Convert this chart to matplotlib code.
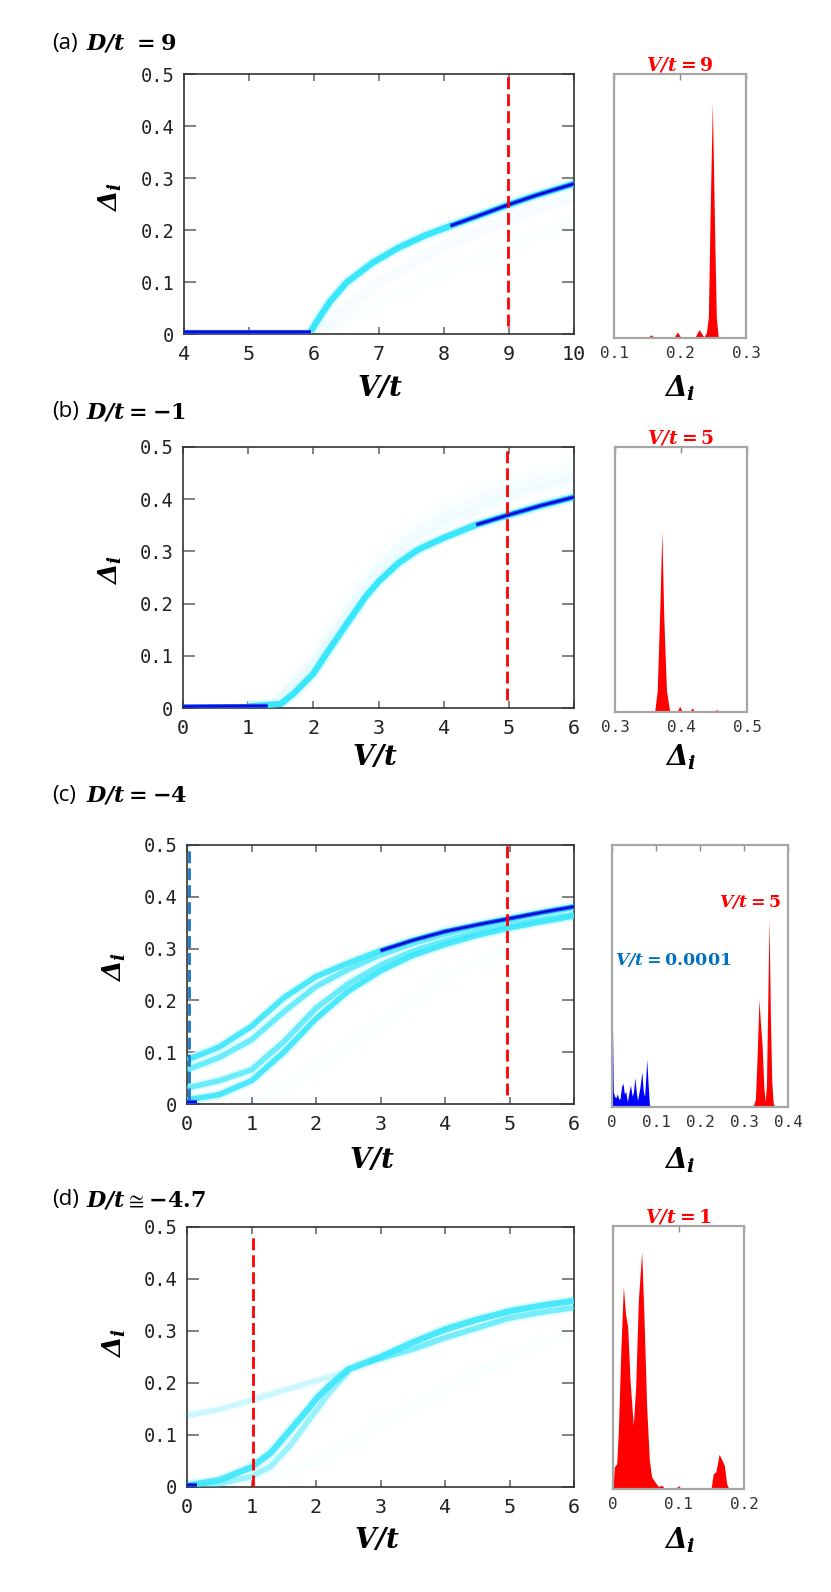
import matplotlib.pyplot as plt

# --------------------------------------------------------------------
# data
# --------------------------------------------------------------------

y_ticks = [0, 0.1, 0.2, 0.3, 0.4, 0.5]
y_tick_labels = ["0", "0.1", "0.2", "0.3", "0.4", "0.5"]

# (a) D/t = 9
a_xticks = [4, 5, 6, 7, 8, 9, 10]
a_flat_v = [4.0, 5.95]
a_flat_d = [0.003, 0.003]
a_v = [5.95, 6.0, 6.1, 6.25, 6.5, 6.9, 7.3, 7.7, 8.1, 8.5, 9.0, 9.4, 10.0]
a_d = [0.005, 0.015, 0.035, 0.063, 0.099, 0.137, 0.166, 0.189, 0.208, 0.226, 0.249, 0.266, 0.289]
a_faint_v = [6.0, 7.0, 8.0, 9.0, 10.0]
a_faint1_d = [0.0, 0.10, 0.17, 0.22, 0.265]
a_faint2_d = [0.0, 0.06, 0.12, 0.17, 0.215]
a_cut = 8.98
a_hist_x = [0.1, 0.150, 0.156, 0.162, 0.190, 0.196, 0.202, 0.222, 0.229, 0.236, 0.240,
            0.243, 0.2455, 0.249, 0.2525, 0.255, 0.258, 0.3]
a_hist_y = [0, 0, 0.012, 0, 0, 0.022, 0, 0, 0.032, 0.004, 0.02,
            0.08, 0.45, 0.89, 0.40, 0.08, 0, 0]
a_hist_ticks = [0.1, 0.2, 0.3]
a_hist_labels = ["0.1", "0.2", "0.3"]

# (b) D/t = -1
b_xticks = [0, 1, 2, 3, 4, 5, 6]
b_flat_v = [0.0, 1.3]
b_flat_d = [0.003, 0.004]
b_v = [1.0, 1.5, 1.7, 2.0, 2.2, 2.5, 2.8, 3.0, 3.3, 3.6, 4.0, 4.5, 5.0, 5.5, 6.0]
b_d = [0.003, 0.008, 0.028, 0.066, 0.104, 0.159, 0.213, 0.242, 0.277, 0.303, 0.326,
       0.351, 0.370, 0.388, 0.404]
b_faint_v = [1.4, 2.0, 2.5, 3.0, 3.5, 4.0, 5.0, 6.0]
b_faint1_d = [0.01, 0.10, 0.20, 0.285, 0.345, 0.385, 0.435, 0.466]
b_faint2_d = [0.005, 0.085, 0.18, 0.265, 0.325, 0.365, 0.418, 0.447]
b_faint3_d = [0.004, 0.078, 0.17, 0.255, 0.313, 0.352, 0.405, 0.437]
b_cut = 4.97
b_hist_x = [0.3, 0.360, 0.364, 0.368, 0.371, 0.374, 0.378, 0.383, 0.394, 0.398, 0.402,
            0.413, 0.417, 0.421, 0.450, 0.454, 0.458, 0.5]
b_hist_y = [0, 0, 0.08, 0.40, 0.68, 0.35, 0.08, 0, 0, 0.022, 0,
            0, 0.016, 0, 0, 0.01, 0, 0]
b_hist_ticks = [0.3, 0.4, 0.5]
b_hist_labels = ["0.3", "0.4", "0.5"]

# (c) D/t = -4
c_xticks = [0, 1, 2, 3, 4, 5, 6]
c_v = [0, 0.5, 1, 1.5, 2, 2.5, 3, 3.5, 4, 4.5, 5, 5.5, 6]
c_s1 = [0.085, 0.11, 0.15, 0.205, 0.246, 0.272, 0.296, 0.316, 0.333, 0.346, 0.358, 0.370, 0.381]
c_s2 = [0.066, 0.09, 0.124, 0.178, 0.227, 0.26, 0.288, 0.310, 0.328, 0.343, 0.356, 0.368, 0.379]
c_s3 = [0.031, 0.045, 0.066, 0.12, 0.185, 0.232, 0.268, 0.295, 0.315, 0.332, 0.345, 0.356, 0.366]
c_s4 = [0.008, 0.018, 0.045, 0.10, 0.165, 0.218, 0.257, 0.287, 0.308, 0.326, 0.340, 0.352, 0.363]
c_faint_v = [0.8, 1.5, 2.0, 3.0, 4.0, 5.0]
c_faint_d = [0.0, 0.03, 0.07, 0.155, 0.245, 0.305]
c_dot_v = [0.0, 0.15]
c_dot_d = [0.004, 0.004]
c_cut = 4.96
c_cut_low = 0.03
c_red_x = [0.320, 0.326, 0.330, 0.334, 0.337, 0.341, 0.345, 0.348, 0.351, 0.354, 0.357,
           0.360, 0.363, 0.366, 0.369]
c_red_y = [0, 0.03, 0.20, 0.41, 0.33, 0.24, 0.08, 0.02, 0.08, 0.40, 0.716,
           0.35, 0.10, 0.02, 0]
c_blue_x = [0.0, 0.0012, 0.003, 0.006, 0.009, 0.012, 0.0155, 0.018, 0.022, 0.025, 0.028,
            0.031, 0.035, 0.039, 0.042, 0.046, 0.049, 0.052, 0.055, 0.058, 0.063, 0.068,
            0.071, 0.074, 0.077, 0.079, 0.082, 0.085, 0.087]
c_blue_y = [0.643, 0.30, 0.06, 0.04, 0.035, 0.05, 0.03, 0.03, 0.08, 0.09, 0.05,
            0.06, 0.02, 0.06, 0.083, 0.04, 0.06, 0.112, 0.06, 0.025, 0.07, 0.134,
            0.06, 0.04, 0.12, 0.182, 0.09, 0.01, 0.0]
c_hist_ticks = [0, 0.1, 0.2, 0.3, 0.4]
c_hist_labels = ["0", "0.1", "0.2", "0.3", "0.4"]

# (d) D/t ~ -4.7
d_xticks = [0, 1, 2, 3, 4, 5, 6]
d_v = [0.0, 0.5, 1.0, 1.3, 1.5, 1.7, 1.9, 2.0, 2.2, 2.5, 3.0, 3.5, 4.0, 4.5, 5.0, 5.5, 6.0]
d_d = [0.003, 0.013, 0.038, 0.066, 0.095, 0.124, 0.153, 0.169, 0.194, 0.226, 0.250,
       0.278, 0.303, 0.322, 0.338, 0.349, 0.358]
d_low_v = [2.8, 3.5, 4.0, 4.5, 5.0, 5.5, 6.0]
d_low_d = [0.24, 0.265, 0.287, 0.306, 0.325, 0.336, 0.345]
d_up_v = [0.0, 0.5, 1.0, 1.5, 2.0, 2.5]
d_up_d = [0.138, 0.149, 0.167, 0.186, 0.204, 0.223]
d_split_v = [0.0, 0.5, 1.0, 1.3, 1.6, 1.9, 2.2, 2.5]
d_split_d = [0.0, 0.006, 0.02, 0.04, 0.08, 0.13, 0.18, 0.222]
d_faint_v = [1.0, 2.0, 3.0, 4.0, 5.0, 6.0]
d_faint_d = [0.005, 0.05, 0.12, 0.19, 0.25, 0.30]
d_cut = 1.03
d_hist_x = [0.0, 0.002, 0.0056, 0.008, 0.012, 0.0158, 0.019, 0.0224, 0.026, 0.031, 0.0346,
            0.0387, 0.0438, 0.0473, 0.0514, 0.0555, 0.059, 0.064, 0.069, 0.075, 0.079,
            0.0957, 0.0997, 0.105, 0.1496, 0.153, 0.157, 0.162, 0.166, 0.170, 0.1735,
            0.177, 0.2]
d_hist_y = [0.0, 0.084, 0.096, 0.21, 0.527, 0.77, 0.667, 0.616, 0.413, 0.242, 0.388,
            0.717, 0.901, 0.654, 0.312, 0.109, 0.046, 0.027, 0.01, 0.014, 0.0,
            0.0, 0.013, 0.0, 0.0, 0.058, 0.065, 0.132, 0.112, 0.09, 0.02,
            0.0, 0.0]
d_hist_ticks = [0, 0.1, 0.2]
d_hist_labels = ["0", "0.1", "0.2"]

# --------------------------------------------------------------------
# style
# --------------------------------------------------------------------

W, H = 831, 1592
CYAN = "#3ae6fa"
HALO = "#d6faff"
HAZE = "#00dcff"
BLUE_MID = "#1a4dff"
BLUE_DARK = "#0000c0"
RED = "#ff0000"
CUT_BLUE = "#1a75c8"
MONO = "DejaVu Sans Mono"
DASH = (0, (4.3, 1.8))

plt.rcParams["mathtext.fontset"] = "custom"
plt.rcParams["mathtext.rm"] = "DejaVu Serif:italic:bold"
plt.rcParams["mathtext.it"] = "DejaVu Serif:italic:bold"
plt.rcParams["mathtext.bf"] = "DejaVu Serif:bold"

fig = plt.figure(figsize=(W / 100, H / 100), dpi=100)


def frac(x0, y0, x1, y1):
    return [x0 / W, 1 - y1 / H, (x1 - x0) / W, (y1 - y0) / H]


def ftext(x, y, s, **kw):
    fig.text(x / W, 1 - y / H, s, **kw)


def main_axes(box, xlim, xticks):
    ax = fig.add_axes(frac(*box))
    ax.set_xlim(xlim)
    ax.set_ylim(0, 0.5)
    ax.set_xticks(xticks, [str(t) for t in xticks], family=MONO, fontsize=14.5, color="#222222")
    ax.set_yticks(y_ticks, y_tick_labels, family=MONO, fontsize=13.5, color="#222222")
    ax.tick_params(direction="in", top=True, right=True, color="#777777", width=1.3)
    ax.tick_params(axis="y", length=8.5, pad=7)
    ax.tick_params(axis="x", length=5, pad=8)
    for s in ax.spines.values():
        s.set_color("#333333")
        s.set_linewidth(1.2)
    return ax


def side_axes(box, xlim, ticks, labels):
    ax = fig.add_axes(frac(*box))
    ax.set_xlim(xlim)
    ax.set_ylim(0, 1)
    ax.set_yticks([])
    ax.set_xticks(ticks, labels, family=MONO, fontsize=11.5, color="#333333")
    ax.tick_params(axis="x", direction="in", bottom=False, top=True, length=4,
                   width=1, color="#888888", pad=6)
    for s in ax.spines.values():
        s.set_color("#a6a6a6")
        s.set_linewidth(1.6)
    return ax


def band(ax, v, d, lw=4.5, alpha=1.0):
    ax.plot(v, d, color=HALO, lw=lw + 3, alpha=alpha, solid_capstyle="butt", zorder=2)
    ax.plot(v, d, color=CYAN, lw=lw, alpha=alpha, solid_capstyle="butt", zorder=3)


def core(ax, v, d):
    ax.plot(v, d, color=BLUE_MID, lw=3, solid_capstyle="butt", zorder=4)
    ax.plot(v, d, color=BLUE_DARK, lw=1.2, solid_capstyle="butt", zorder=5)


def haze(ax, v, d, a=0.03):
    ax.plot(v, d, color=HAZE, lw=8, alpha=a, solid_capstyle="butt", zorder=1)


def cut(ax, v, lo, hi=0.5, color=RED):
    ax.plot([v, v], [lo, hi], color=color, lw=2, linestyle=DASH, zorder=6)


def labels(xlab_pos, side_pos, ylab_pos):
    ftext(*xlab_pos, r"$V/t$", fontsize=20, ha="center", va="center")
    ftext(*side_pos, r"$\Delta_i$", fontsize=20, ha="center", va="center")
    ftext(*ylab_pos, r"$\Delta_i$", fontsize=19, ha="center", va="center", rotation=90)


def title(y, tag, math):
    ftext(52, y, tag, family="Open Sans", fontsize=16, ha="left", va="center")
    ftext(86, y, math, fontsize=16, ha="left", va="center")


# --------------------------------------------------------------------
# (a)
# --------------------------------------------------------------------
ax = main_axes((184, 74, 574, 334), (4, 10), a_xticks)
haze(ax, a_faint_v, a_faint1_d)
haze(ax, a_faint_v, a_faint2_d, 0.02)
band(ax, a_v, a_d)
core(ax, a_flat_v, a_flat_d)
core(ax, a_v[8:], a_d[8:])
cut(ax, a_cut, 0.016)

hx = side_axes((614, 74, 746, 338), (0.1, 0.3), a_hist_ticks, a_hist_labels)
hx.fill_between(a_hist_x, a_hist_y, color=RED, lw=0)
hx.set_title(r"$V/t=\mathbf{9}$", color=RED, fontsize=13.5, pad=2.5)

title(43, "(a)", r"$D/t\ {=}\mathbf{9}$")
labels((380, 388), (680, 388), (110, 197))

# --------------------------------------------------------------------
# (b)
# --------------------------------------------------------------------
ax = main_axes((183, 447, 574, 708), (0, 6), b_xticks)
haze(ax, b_faint_v, b_faint1_d, 0.025)
haze(ax, b_faint_v, b_faint2_d, 0.03)
haze(ax, b_faint_v, b_faint3_d, 0.035)
band(ax, b_v, b_d)
core(ax, b_flat_v, b_flat_d)
core(ax, b_v[11:], b_d[11:])
cut(ax, b_cut, 0.016)

hx = side_axes((615, 447, 747, 712), (0.3, 0.5), b_hist_ticks, b_hist_labels)
hx.fill_between(b_hist_x, b_hist_y, color=RED, lw=0)
hx.set_title(r"$V/t=\mathbf{5}$", color=RED, fontsize=13.5, pad=2.5)

title(412, "(b)", r"$D/t=\mathbf{-1}$")
labels((375, 757), (681, 757), (110, 570))

# --------------------------------------------------------------------
# (c)
# --------------------------------------------------------------------
ax = main_axes((187, 845, 574, 1104), (0, 6), c_xticks)
haze(ax, c_faint_v, c_faint_d, 0.025)
band(ax, c_v, c_s4, 4, 0.9)
band(ax, c_v, c_s3, 4, 0.7)
band(ax, c_v, c_s2, 4, 0.7)
band(ax, c_v, c_s1, 4, 0.9)
core(ax, c_v[6:], c_s1[6:])
core(ax, c_dot_v, c_dot_d)
cut(ax, c_cut, 0.018)
cut(ax, c_cut_low, 0.008, color=CUT_BLUE)

hx = side_axes((612, 845, 788, 1107), (0, 0.4), c_hist_ticks, c_hist_labels)
hx.fill_between(c_blue_x, c_blue_y, color="#0000ff", lw=0)
hx.fill_between(c_red_x, c_red_y, color=RED, lw=0)
ftext(615, 960, r"$V/t=\mathbf{0.0001}$", color="#0070c0", fontsize=12.5, ha="left", va="center")
ftext(782, 902, r"$V/t=\mathbf{5}$", color=RED, fontsize=12.5, ha="right", va="center")

title(795, "(c)", r"$D/t=\mathbf{-4}$")
labels((372, 1160), (680, 1160), (114, 967))

# --------------------------------------------------------------------
# (d)
# --------------------------------------------------------------------
ax = main_axes((187, 1227, 574, 1487), (0, 6), d_xticks)
haze(ax, d_faint_v, d_faint_d, 0.025)
band(ax, d_up_v, d_up_d, 4, 0.22)
band(ax, d_split_v, d_split_d, 4, 0.45)
band(ax, d_low_v, d_low_d, 4, 0.65)
band(ax, d_v, d_d, 4.5, 0.9)
core(ax, c_dot_v, c_dot_d)
cut(ax, d_cut, 0.0, 0.487)

hx = side_axes((613, 1226, 744, 1489), (0, 0.2), d_hist_ticks, d_hist_labels)
hx.fill_between(d_hist_x, d_hist_y, color=RED, lw=0)
hx.set_title(r"$V/t=\mathbf{1}$", color=RED, fontsize=13.5, pad=2.5)

title(1200, "(d)", r"$D/t\cong\mathbf{-4.7}$")
labels((377, 1540), (680, 1540), (114, 1343))

fig.savefig("out.png", dpi=100)
